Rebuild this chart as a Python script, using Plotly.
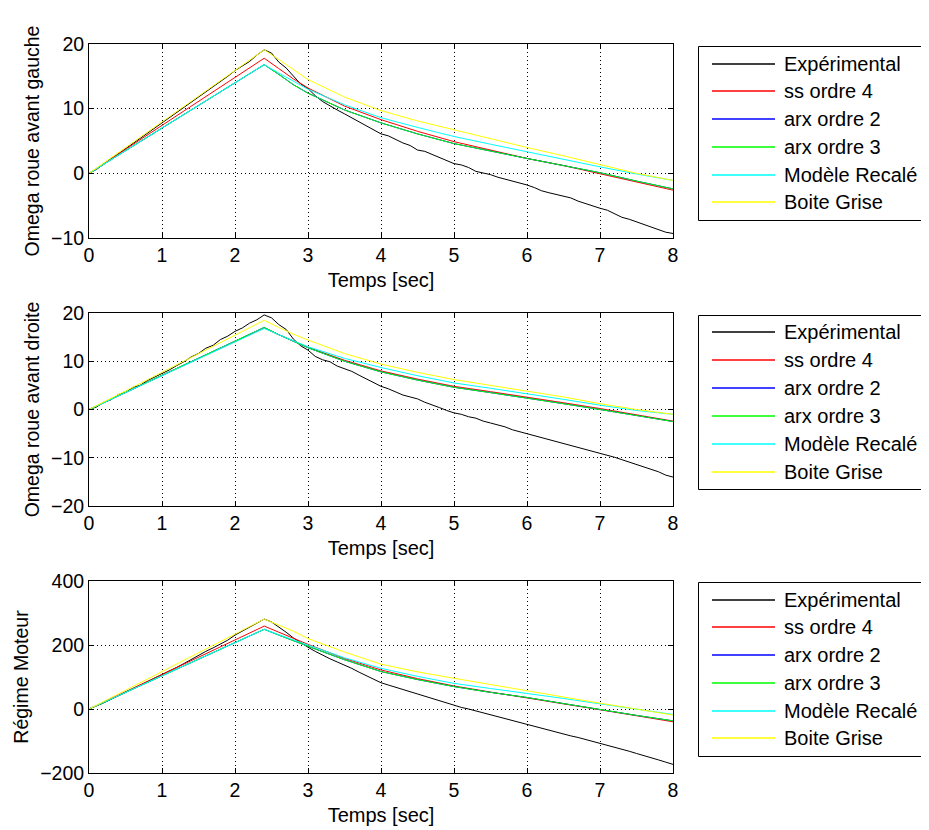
import plotly.graph_objects as go

# ---------------- data ----------------
t_exp = [round(i * 0.1, 1) for i in range(81)]
t_mod = [0.0, 2.4, 2.6, 2.8, 3.0, 3.5, 4.0, 4.5, 5.0, 5.5, 6.0, 6.5, 7.0, 7.5, 8.0]

series_names = ["Expérimental", "ss ordre 4", "arx ordre 2", "arx ordre 3",
                "Modèle Recalé", "Boite Grise"]

# Panel 1 : Omega roue avant gauche
p1_exp = [0.0, 0.6, 1.4, 2.2, 3.0, 3.7, 4.6, 5.4, 6.2, 7.0,
          7.8, 8.5, 9.3, 10.2, 11.0, 11.7, 12.6, 13.4, 14.1, 15.0,
          15.9, 16.6, 17.3, 18.3, 19.1, 18.6, 17.2, 16.3, 15.0, 13.8,
          13.1, 12.0, 11.1, 10.4, 9.8, 9.2, 8.6, 8.0, 7.3, 6.8,
          6.1, 5.8, 5.2, 4.7, 4.3, 3.6, 3.4, 2.9, 2.5, 1.9,
          1.5, 1.3, 0.9, 0.3, 0.1, -0.2, -0.6, -0.9, -1.1, -1.4,
          -1.8, -2.2, -2.7, -3.0, -3.3, -3.6, -3.8, -4.3, -4.7, -5.0,
          -5.4, -5.7, -6.2, -6.8, -7.1, -7.5, -7.9, -8.3, -8.6, -9.1, -9.3]
p1_ss4 = [0.0, 17.8, 16.2, 14.6, 13.2, 10.4, 8.3, 6.5, 4.9, 3.6, 2.3, 1.2, -0.1, -1.4, -2.6]
p1_arx2 = [0.0, 16.8, 15.3, 13.7, 12.4, 9.8, 7.8, 6.1, 4.6, 3.4, 2.3, 1.2, 0.1, -1.2, -2.4]
p1_arx3 = [0.0, 16.8, 15.3, 13.7, 12.4, 9.8, 7.8, 6.1, 4.6, 3.4, 2.3, 1.2, 0.1, -1.2, -2.4]
p1_rec = [0.0, 16.8, 15.5, 14.2, 13.0, 10.6, 8.6, 7.1, 5.7, 4.5, 3.3, 2.2, 1.0, -0.1, -1.1]
p1_bg = [0.0, 19.1, 17.6, 16.0, 14.5, 11.8, 9.7, 8.1, 6.7, 5.3, 4.0, 2.7, 1.3, 0.0, -1.1]

# Panel 2 : Omega roue avant droite
p2_exp = [0.0, 0.5, 1.5, 2.0, 3.1, 3.5, 4.6, 5.0, 6.0, 6.7,
          7.5, 8.2, 9.1, 9.9, 10.9, 11.6, 12.7, 13.3, 14.5, 15.2,
          16.2, 16.9, 17.9, 18.6, 19.6, 19.0, 17.6, 16.6, 14.6, 13.2,
          12.3, 11.0, 10.3, 9.9, 9.0, 8.5, 7.9, 7.1, 6.3, 5.6,
          4.8, 4.3, 3.6, 3.0, 2.6, 2.2, 1.5, 1.0, 0.4, -0.2,
          -0.7, -1.0, -1.5, -1.8, -2.4, -2.8, -3.2, -3.6, -4.2, -4.6,
          -5.0, -5.4, -5.8, -6.3, -6.7, -7.0, -7.4, -7.9, -8.3, -8.7,
          -9.1, -9.5, -9.9, -10.4, -10.9, -11.4, -11.9, -12.4, -12.9, -13.6, -14.0]
p2_ss4 = [0.0, 16.9, 15.5, 14.2, 12.9, 10.2, 8.0, 6.3, 4.8, 3.7, 2.6, 1.4, 0.2, -1.1, -2.4]
p2_arx2 = [0.0, 17.0, 15.5, 14.1, 12.8, 10.0, 7.8, 6.1, 4.6, 3.5, 2.4, 1.2, 0.0, -1.2, -2.5]
p2_arx3 = [0.0, 17.0, 15.5, 14.1, 12.8, 10.0, 7.8, 6.1, 4.6, 3.5, 2.4, 1.2, 0.0, -1.2, -2.5]
p2_rec = [0.0, 16.8, 15.5, 14.2, 13.0, 10.6, 8.7, 7.0, 5.5, 4.4, 3.3, 2.1, 0.9, -0.2, -1.0]
p2_bg = [0.0, 18.5, 17.0, 15.6, 14.4, 11.6, 9.4, 7.7, 6.2, 5.0, 3.9, 2.6, 1.2, 0.0, -1.0]

# Panel 3 : Régime Moteur
p3_exp = [0, 9, 19, 30, 41, 51, 62, 73, 84, 95,
          106, 118, 130, 142, 155, 167, 180, 191, 204, 215,
          231, 243, 256, 268, 281, 272, 257, 240, 222, 207,
          193, 180, 168, 157, 147, 138, 127, 115, 104, 92,
          82, 75, 68, 61, 53, 45, 39, 32, 25, 18,
          12, 5, 0, -6, -12, -18, -24, -30, -37, -43,
          -50, -55, -61, -66, -72, -78, -84, -89, -95, -100,
          -107, -113, -119, -126, -132, -139, -145, -152, -159, -166, -173]
p3_ss4 = [0, 259, 240, 220, 202, 158, 122, 95, 72, 53, 35, 17, -1, -21, -40]
p3_arx2 = [0, 249, 231, 213, 196, 154, 117, 92, 70, 52, 36, 17, -2, -20, -37]
p3_arx3 = [0, 249, 231, 213, 196, 154, 117, 92, 70, 52, 36, 17, -2, -20, -37]
p3_rec = [0, 249, 232, 215, 200, 160, 127, 102, 80, 64, 49, 33, 16, 0, -17]
p3_bg = [0, 281, 262, 243, 220, 178, 140, 116, 96, 76, 57, 38, 18, 0, -19]

x_ticks = [0, 1, 2, 3, 4, 5, 6, 7, 8]
p1_yticks = [-10, 0, 10, 20]
p2_yticks = [-20, -10, 0, 10, 20]
p3_yticks = [-200, 0, 200, 400]

y_titles = ["Omega roue avant gauche", "Omega roue avant droite", "Régime Moteur"]
x_title = "Temps [sec]"

# ---------------- styling ----------------
colors = ["#000000", "#FF0000", "#0000FF", "#00FF00", "#00FFFF", "#FFFF00"]
FONT = "Liberation Sans, Arial, sans-serif"

OFF = 8  # page body margin
W, H = 929 - OFF, 830 - OFF
X0, X1 = 89 - OFF, 673 - OFF
panels_px = [(44 - OFF, 238 - OFF), (313 - OFF, 506 - OFF), (581 - OFF, 773 - OFF)]
legend_top_px = [46 - OFF, 315 - OFF, 582 - OFF]
LEG_LEFT = 698 - OFF
LEG_H = 174
LEG_ROW0 = 17.5
LEG_ROW = 27.8
LEG_LINE = (712 - OFF, 775 - OFF)
LEG_TEXT = 782 - OFF


def px_x(v):
    return v / W


def px_y(v):
    return 1 - v / H


panels = [
    (p1_exp, [p1_ss4, p1_arx2, p1_arx3, p1_rec, p1_bg], p1_yticks),
    (p2_exp, [p2_ss4, p2_arx2, p2_arx3, p2_rec, p2_bg], p2_yticks),
    (p3_exp, [p3_ss4, p3_arx2, p3_arx3, p3_rec, p3_bg], p3_yticks),
]

fig = go.Figure()
layout = {}
shapes = []
annotations = []
for i, (exp, models, yt) in enumerate(panels):
    n = i + 1
    xa = "x" if n == 1 else f"x{n}"
    ya = "y" if n == 1 else f"y{n}"
    fig.add_trace(go.Scatter(x=t_exp, y=exp, mode="lines", name=series_names[0],
                             line=dict(color=colors[0], width=1),
                             xaxis=xa, yaxis=ya, showlegend=False))
    for k, m in enumerate(models):
        fig.add_trace(go.Scatter(x=t_mod, y=m, mode="lines", name=series_names[k + 1],
                                 line=dict(color=colors[k + 1], width=1),
                                 xaxis=xa, yaxis=ya, showlegend=False))
    top, bot = panels_px[i]
    axis_common = dict(
        showline=True, linecolor="#000000", linewidth=1, mirror="ticks",
        ticks="inside", ticklen=5, tickcolor="#000000",
        showgrid=True, gridcolor="#000000", gridwidth=1, griddash="1px,3px",
        zeroline=False, tickfont=dict(family=FONT, size=19.5, color="#000000"),
    )
    xname = "xaxis" if n == 1 else f"xaxis{n}"
    yname = "yaxis" if n == 1 else f"yaxis{n}"
    layout[xname] = dict(axis_common, domain=[px_x(X0), px_x(X1)], range=[0, 8],
                         tickvals=x_ticks, anchor=ya,
                         title=dict(text=x_title, standoff=7,
                                    font=dict(family=FONT, size=20, color="#000000")))
    layout[yname] = dict(axis_common, domain=[px_y(bot), px_y(top)],
                         range=[yt[0], yt[-1]], tickvals=yt, anchor=xa,
                         title=dict(text=y_titles[i], standoff=6,
                                    font=dict(family=FONT, size=19.5, color="#000000")))

    # legend box (drawn like the MATLAB legend)
    lt = legend_top_px[i]
    shapes.append(dict(type="rect", xref="paper", yref="paper",
                       x0=px_x(LEG_LEFT + 0.5), x1=px_x(W + 5),
                       y0=px_y(lt + LEG_H + 0.5), y1=px_y(lt + 0.5),
                       line=dict(color="#000000", width=1), fillcolor="#FFFFFF",
                       layer="above"))
    for k, name in enumerate(series_names):
        yc = round(lt + LEG_ROW0 + k * LEG_ROW)
        shapes.append(dict(type="line", xref="paper", yref="paper",
                           x0=px_x(LEG_LINE[0]), x1=px_x(LEG_LINE[1]),
                           y0=px_y(yc), y1=px_y(yc),
                           line=dict(color=colors[k], width=1.5), layer="above"))
        annotations.append(dict(text=name, xref="paper", yref="paper",
                                x=px_x(LEG_TEXT), y=px_y(yc),
                                xanchor="left", yanchor="middle", showarrow=False,
                                font=dict(family=FONT, size=20, color="#000000")))

fig.update_layout(**layout)
fig.update_layout(width=W, height=H, paper_bgcolor="#FFFFFF", plot_bgcolor="#FFFFFF",
                  margin=dict(l=0, r=0, t=0, b=0, autoexpand=False),
                  showlegend=False, shapes=shapes, annotations=annotations)
fig.write_html("out.html")
